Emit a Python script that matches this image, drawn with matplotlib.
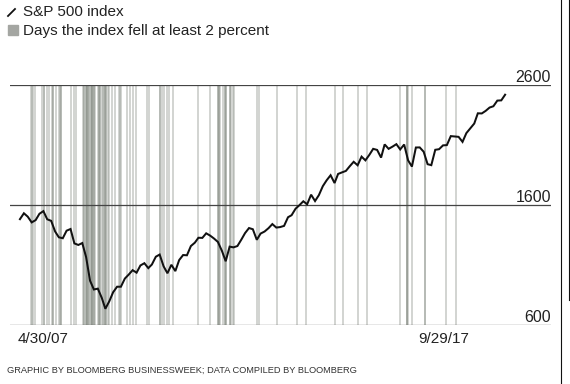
import matplotlib
matplotlib.use("Agg")
import matplotlib.pyplot as plt
import matplotlib.transforms as mtransforms
import pandas as pd
from matplotlib.lines import Line2D
from matplotlib.patches import Rectangle

plt.rcParams['font.family'] = ['Liberation Sans', 'DejaVu Sans']

# Monthly S&P 500 closes, Apr 2007 - Sep 2017
sp_values = [
    1482, 1531, 1503, 1455, 1474, 1527, 1549, 1481, 1468,
    1379, 1331, 1323, 1386, 1400, 1280, 1267, 1283, 1166, 969, 896, 903,
    826, 735, 798, 873, 919, 919, 987, 1021, 1057, 1036, 1096, 1115,
    1074, 1104, 1169, 1187, 1089, 1031, 1102, 1049, 1141, 1183, 1181, 1258,
    1286, 1327, 1326, 1364, 1345, 1321, 1292, 1219, 1131, 1253, 1247, 1258,
    1312, 1366, 1408, 1398, 1310, 1362, 1379, 1407, 1441, 1412, 1416, 1426,
    1498, 1515, 1569, 1598, 1631, 1606, 1686, 1633, 1682, 1757, 1806, 1848,
    1783, 1859, 1872, 1884, 1924, 1960, 1931, 2003, 1972, 2018, 2068, 2059,
    1995, 2105, 2068, 2086, 2107, 2063, 2104, 1972, 1920, 2079, 2080, 2044,
    1940, 1932, 2060, 2065, 2097, 2099, 2174, 2171, 2168, 2126, 2199, 2239,
    2279, 2364, 2363, 2384, 2412, 2423, 2470, 2472, 2519,
]
sp_dates = pd.date_range('2007-04-30', periods=len(sp_values), freq='ME')

# Days the index fell at least 2 percent
drop_days = [
    '2007-07-26', '2007-08-03', '2007-08-09', '2007-08-28', '2007-10-19',
    '2007-11-01', '2007-11-07', '2007-11-26', '2007-12-11',
    '2008-01-04', '2008-01-15', '2008-01-17', '2008-02-05', '2008-02-29',
    '2008-03-06', '2008-03-14', '2008-03-19', '2008-06-06', '2008-06-26',
    '2008-07-15', '2008-09-04', '2008-09-15', '2008-09-17', '2008-09-29',
    '2008-10-02', '2008-10-06', '2008-10-07', '2008-10-09', '2008-10-15',
    '2008-10-22', '2008-10-24', '2008-11-05', '2008-11-06', '2008-11-12',
    '2008-11-14', '2008-11-19', '2008-11-20', '2008-12-01', '2008-12-04',
    '2008-12-11', '2008-12-29', '2009-01-07', '2009-01-09', '2009-01-14',
    '2009-01-20', '2009-01-29', '2009-02-10', '2009-02-17', '2009-02-23',
    '2009-02-27', '2009-03-02', '2009-03-05', '2009-03-20', '2009-03-30',
    '2009-04-20', '2009-05-13', '2009-06-15', '2009-06-22', '2009-07-02',
    '2009-08-17', '2009-09-08', '2009-10-01', '2009-10-30',
    '2010-01-22', '2010-02-04', '2010-05-04', '2010-05-06', '2010-05-20',
    '2010-06-04', '2010-06-29', '2010-07-16', '2010-08-11',
    '2011-02-22', '2011-06-01', '2011-08-02', '2011-08-04', '2011-08-08',
    '2011-08-10', '2011-08-18', '2011-09-09', '2011-09-21', '2011-09-22',
    '2011-09-30', '2011-10-03', '2011-10-31', '2011-11-01', '2011-11-09',
    '2011-11-23', '2011-12-08',
    '2012-06-01', '2012-06-21', '2012-11-07',
    '2013-04-15', '2013-06-20',
    '2014-02-03', '2014-04-10', '2014-07-31', '2014-10-09',
    '2015-06-29', '2015-08-20', '2015-08-21', '2015-08-24', '2015-09-01',
    '2015-09-28',
    '2016-01-07', '2016-01-13', '2016-06-24', '2016-09-09',
]

y_ticks = [600, 1600, 2600]
start_label = '4/30/07'
end_label = '9/29/17'
legend_line = 'S&P 500 index'
legend_bar = 'Days the index fell at least 2 percent'
source = 'GRAPHIC BY BLOOMBERG BUSINESSWEEK; DATA COMPILED BY BLOOMBERG'

W, H = 570, 384
fig = plt.figure(figsize=(W / 100, H / 100), dpi=100)
fig.patch.set_facecolor('white')

left, right, top, bottom = 10, 551, 85, 325
ax = fig.add_axes([left / W, 1 - bottom / H, (right - left) / W, (bottom - top) / H])
ax.set_xlim(pd.Timestamp('2007-02-11'), pd.Timestamp('2018-09-25'))
ax.set_ylim(600, 2600)
ax.axis('off')

for d in drop_days:
    ax.axvline(pd.Timestamp(d), ymin=0, ymax=1, color='#8a9088', alpha=0.45,
               lw=1.2, zorder=1)

lbl_tr = mtransforms.offset_copy(ax.get_yaxis_transform(), fig=fig, x=0, y=3.5,
                                 units='dots')
for t in y_ticks:
    ax.axhline(t, color='#444444', lw=0.9, zorder=2)
    ax.text(1.0, t, f'{t}', transform=lbl_tr,
            ha='right', va='baseline', fontsize=11.5, color='#222222')

ax.plot(sp_dates, sp_values, color='#111111', lw=1.45, zorder=3,
        solid_joinstyle='miter', clip_on=False)

fig.text(18 / W, 1 - 339 / H, start_label, ha='left', va='center',
         fontsize=11, color='#222222')
fig.text(418 / W, 1 - 339 / H, end_label, ha='left', va='center',
         fontsize=11, color='#222222')

# Legend
fig.add_artist(Line2D([8 / W, 15 / W], [1 - 16 / H, 1 - 9 / H], color='#111111',
                      lw=1.3, transform=fig.transFigure))
fig.add_artist(Rectangle((8 / W, 1 - 35 / H), 10 / W, 10 / H, color='#a4a6a2',
                         transform=fig.transFigure))
fig.text(23 / W, 1 - 12.5 / H, legend_line, ha='left', va='center',
         fontsize=11, color='#222222')
fig.text(23 / W, 1 - 30.5 / H, legend_bar, ha='left', va='center',
         fontsize=11, color='#222222')

fig.text(7 / W, 1 - 370 / H, source, ha='left', va='center',
         fontsize=6.7, color='#333333')

# right-hand border lines
fig.add_artist(Line2D([561 / W, 561 / W], [0, 1], color='#111111', lw=0.8,
                      transform=fig.transFigure))
fig.add_artist(Line2D([569 / W, 569 / W], [1 - 300 / H, 1], color='#111111', lw=0.8,
                      transform=fig.transFigure))

fig.savefig('out.png', dpi=100, facecolor='white')
